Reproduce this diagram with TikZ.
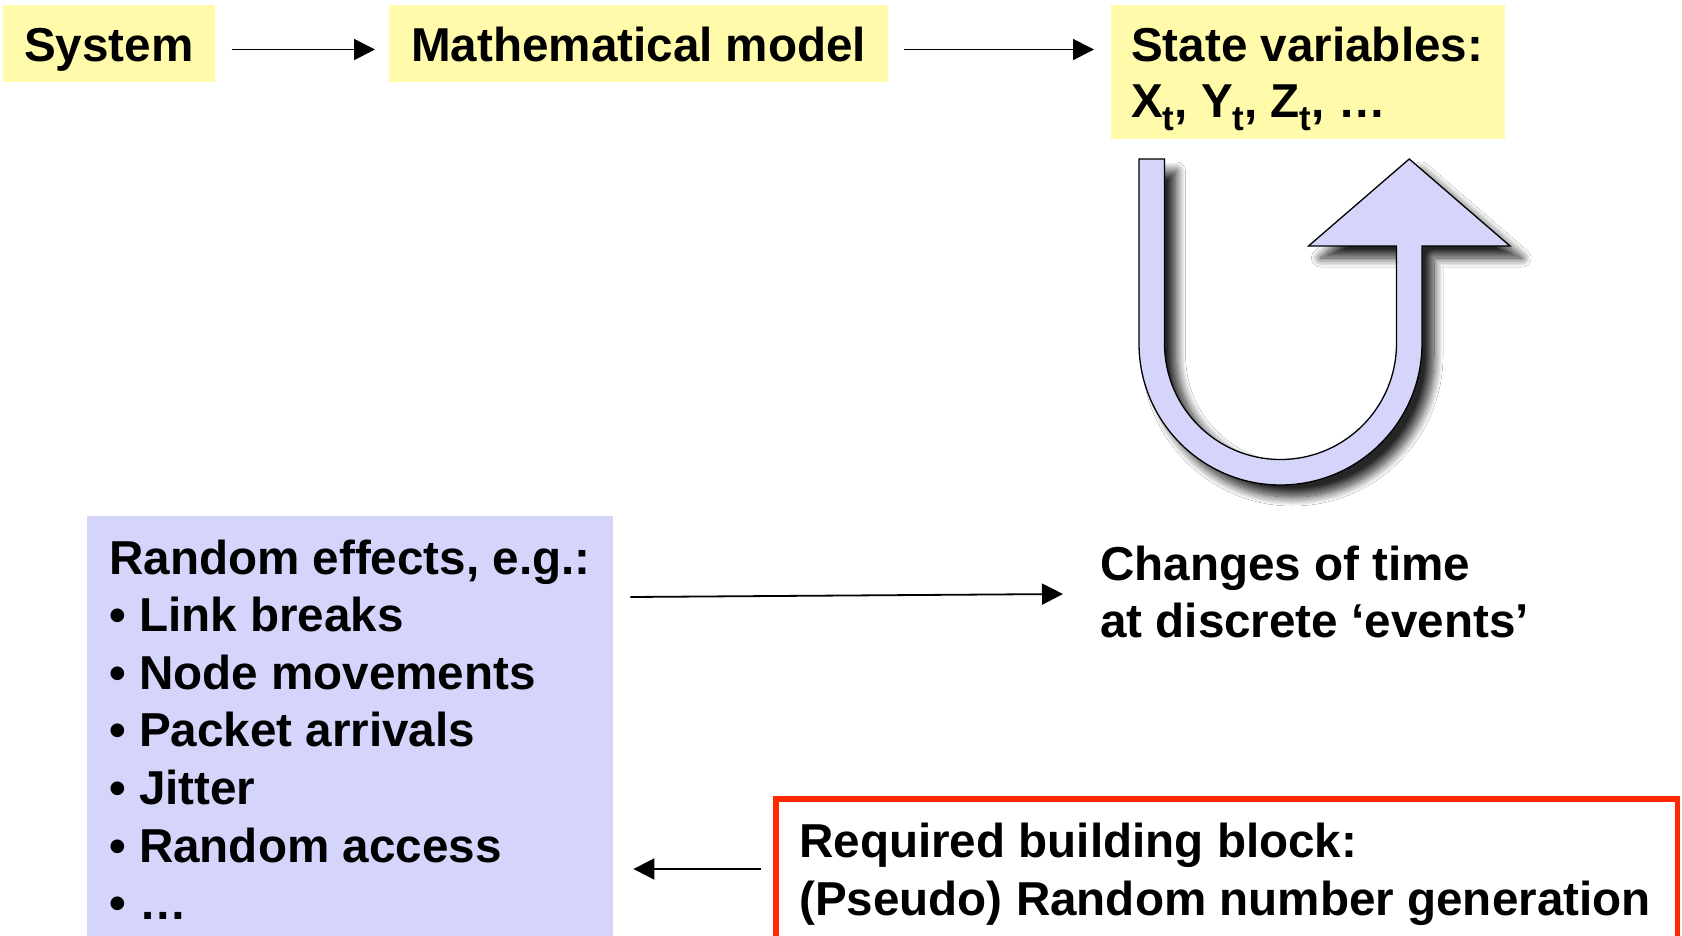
\documentclass[tikz,border=0pt]{standalone}
\usepackage{fontspec}
\setmainfont{Liberation Sans}
\usetikzlibrary{arrows.meta,shadows.blur}
\definecolor{ylw}{RGB}{255,251,170}
\definecolor{lav}{RGB}{213,213,251}
\definecolor{redb}{RGB}{255,40,0}
\newcommand{\sbt}{\raisebox{-13pt}{\fontsize{35pt}{35pt}\selectfont t}}
\begin{document}
\begin{tikzpicture}[x=1pt,y=-1pt,
  font=\fontsize{47.6pt}{57.6pt}\selectfont\bfseries,
  ybox/.style={fill=ylw, draw=none, inner ysep=0pt, text height=57pt, text depth=20pt, anchor=base west},
  txt/.style={inner sep=0pt, anchor=base west},
  arr/.style={line width=1.8pt, draw=black, fill=black, -{Triangle[length=21pt,width=21pt]}},
  uarrow/.style={fill=lav, draw=black, line width=1.3pt, line join=miter,
    blur shadow={shadow xshift=12pt, shadow yshift=-12pt, shadow blur radius=9pt, shadow blur steps=14, shadow opacity=85}},
]
\useasboundingbox (0,0) rectangle (1682,936);
\clip (0,0) rectangle (1682,936);
\fill[white] (0,0) rectangle (1682,936);

% top row
\node[ybox, inner xsep=21pt] (sys) at (3,62) {System};
\node[ybox, inner xsep=22pt] (math) at (389,62) {Mathematical model};
\node[fill=ylw, anchor=north west, minimum width=394pt, minimum height=134pt, inner sep=0pt] (state) at (1111,5) {};
\node[txt] (st1) at (1131,62) {State variables:};
\node[txt] (st2) at (1131,118) {X\sbt, Y\sbt, Z\sbt, …};

% random effects box
\node[fill=lav, anchor=north west, minimum width=526pt, minimum height=440pt, inner sep=0pt] (rand) at (87,516) {};
\node[txt] (r0) at (109,574) {Random effects, e.g.:};
\node[txt] (r1) at (109,631.6) {• Link breaks};
\node[txt] (r2) at (109,689.2) {• Node movements};
\node[txt] (r3) at (109,746.8) {• Packet arrivals};
\node[txt] (r4) at (109,804.4) {• Jitter};
\node[txt] (r5) at (109,862) {• Random access};
\node[txt] (r6) at (109,919.6) {• …};

% changes text
\node[txt] (chg1) at (1100,580) {Changes of time};
\node[txt] (chg2) at (1100,637) {at discrete ‘events’};

% red box
\node[draw=redb, line width=5.5pt, anchor=north west, minimum width=901.5pt, minimum height=300pt, inner sep=0pt] (red) at (773,796) {};
\node[txt] (red1) at (799,857) {Required building block:};
\node[txt] (red2) at (799,915) {(Pseudo) Random number generation};

% connectors
\draw[arr, shorten <=17pt, shorten >=14pt] ([yshift=-6pt]sys.east) -- ([yshift=-6pt]math.west);
\draw[arr, shorten <=16pt, shorten >=17pt] ([yshift=-6pt]math.east) -- ([yshift=-6pt]math.east -| state.west);
\draw[arr] ([shift={(17,81)}]rand.north east) -- ([shift={(-37,14)}]chg1.base west);
\draw[arr] ([shift={(-12,73)}]red.north west) -- ([shift={(20,353)}]rand.north east);

% U-turn arrow
\begin{scope}
\path[uarrow] (1139,159) -- (1139,343.5) arc[start angle=180, end angle=360, radius=141.5pt]
  -- (1422,246) -- (1510,246) -- (1409.25,159) -- (1308.5,246) -- (1396.5,246)
  -- (1396.5,343.5) arc[start angle=0, end angle=-180, radius=116pt]
  -- (1164.5,159) -- cycle;
\end{scope}
\end{tikzpicture}
\end{document}
